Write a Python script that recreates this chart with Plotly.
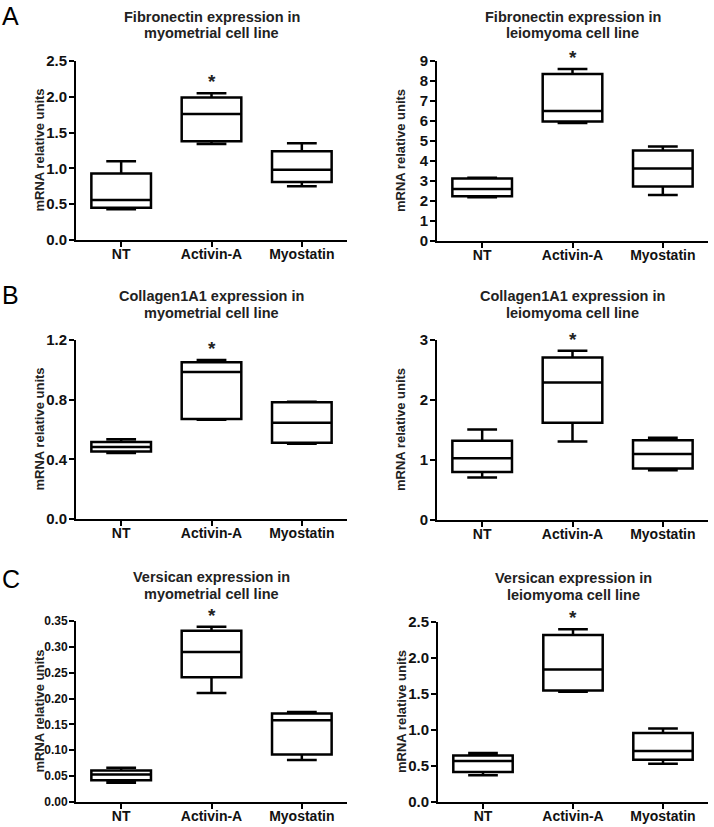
import plotly.graph_objects as go

categories = ["NT", "Activin-A", "Myostatin"]

# five-number summaries (min, q1, median, q3, max)
fn_myo_min = [0.43, 1.34, 0.75]
fn_myo_q1 = [0.45, 1.38, 0.81]
fn_myo_med = [0.56, 1.76, 0.98]
fn_myo_q3 = [0.93, 1.99, 1.24]
fn_myo_max = [1.10, 2.05, 1.35]

fn_leio_min = [2.19, 5.90, 2.30]
fn_leio_q1 = [2.24, 5.97, 2.72]
fn_leio_med = [2.60, 6.50, 3.62]
fn_leio_q3 = [3.12, 8.35, 4.52]
fn_leio_max = [3.16, 8.60, 4.72]

col_myo_min = [0.443, 0.665, 0.505]
col_myo_q1 = [0.452, 0.670, 0.512]
col_myo_med = [0.483, 0.985, 0.645]
col_myo_q3 = [0.516, 1.050, 0.782]
col_myo_max = [0.534, 1.066, 0.786]

col_leio_min = [0.71, 1.31, 0.83]
col_leio_q1 = [0.80, 1.62, 0.86]
col_leio_med = [1.03, 2.29, 1.10]
col_leio_q3 = [1.32, 2.71, 1.33]
col_leio_max = [1.51, 2.82, 1.37]

ver_myo_min = [0.037, 0.211, 0.081]
ver_myo_q1 = [0.042, 0.241, 0.092]
ver_myo_med = [0.053, 0.290, 0.158]
ver_myo_q3 = [0.061, 0.331, 0.171]
ver_myo_max = [0.066, 0.339, 0.174]

ver_leio_min = [0.37, 1.53, 0.53]
ver_leio_q1 = [0.415, 1.55, 0.586]
ver_leio_med = [0.57, 1.84, 0.71]
ver_leio_q3 = [0.646, 2.32, 0.96]
ver_leio_max = [0.68, 2.40, 1.02]

W, H = 714, 827
FONT = "Liberation Sans, Arial, sans-serif"

def px_x(x0, x1):
    return [x0 / W, x1 / W]

def px_y(top, bottom):
    return [1 - bottom / H, 1 - top / H]

# (title lines, stats, y max, dtick, tick format, y tick size, x pixels, y pixels)
panels = [
    (("Fibronectin expression in", "myometrial cell line"),
     (fn_myo_min, fn_myo_q1, fn_myo_med, fn_myo_q3, fn_myo_max), 2.5, 0.5, ".1f", 15, (76, 347), (61, 240)),
    (("Fibronectin expression in", "leiomyoma cell line"),
     (fn_leio_min, fn_leio_q1, fn_leio_med, fn_leio_q3, fn_leio_max), 9, 1, "d", 15, (437, 708), (61, 241)),
    (("Collagen1A1 expression in", "myometrial cell line"),
     (col_myo_min, col_myo_q1, col_myo_med, col_myo_q3, col_myo_max), 1.2, 0.4, ".1f", 15, (76, 347), (340, 519)),
    (("Collagen1A1 expression in", "leiomyoma cell line"),
     (col_leio_min, col_leio_q1, col_leio_med, col_leio_q3, col_leio_max), 3, 1, "d", 15, (437, 708), (340, 520)),
    (("Versican expression in", "myometrial cell line"),
     (ver_myo_min, ver_myo_q1, ver_myo_med, ver_myo_q3, ver_myo_max), 0.35, 0.05, ".2f", 12, (76, 347), (621, 802)),
    (("Versican expression in", "leiomyoma cell line"),
     (ver_leio_min, ver_leio_q1, ver_leio_med, ver_leio_q3, ver_leio_max), 2.5, 0.5, ".1f", 15, (438, 708), (622, 802)),
]

fig = go.Figure()
annotations = []

for i, (title, stats, ymax, dtick, fmt, ysize, xpx, ypx) in enumerate(panels):
    n = "" if i == 0 else str(i + 1)
    lo, q1, med, q3, hi = stats
    fig.add_trace(go.Box(
        x=categories, q1=q1, median=med, q3=q3,
        lowerfence=lo, upperfence=hi,
        xaxis="x" + n, yaxis="y" + n,
        width=0.66, whiskerwidth=0.5,
        line=dict(color="black", width=2.5),
        fillcolor="rgba(255,255,255,0)",
        boxpoints=False, showlegend=False, hoverinfo="skip",
    ))
    fig.update_layout({
        "xaxis" + n: dict(
            domain=px_x(*xpx), anchor="y" + n, type="category", automargin=False,
            range=[-0.5, 2.5], showline=True, linecolor="black", linewidth=2,
            ticks="outside", ticklen=5, tickwidth=2, tickcolor="black",
            ticklabelstandoff=-5,
            showgrid=False, zeroline=False,
            tickfont=dict(family=FONT, size=14, color="#111", weight="bold"),
        ),
        "yaxis" + n: dict(
            domain=px_y(*ypx), anchor="x" + n, automargin=False,
            range=[0, ymax], dtick=dtick, tick0=0, tickformat=fmt,
            showline=True, linecolor="black", linewidth=2,
            ticks="outside", ticklen=5, tickwidth=2, tickcolor="black",
            ticklabelstandoff=-1,
            showgrid=False, zeroline=False,
            tickfont=dict(family=FONT, size=ysize, color="#111", weight="bold"),
        ),
    })
    xc = (xpx[0] + xpx[1]) / 2 / W
    for line, off in zip(title, (44, 27.5)):
        annotations.append(dict(
            text=line, x=xc, y=1 - (ypx[0] - off) / H, xref="paper", yref="paper",
            xanchor="center", yanchor="middle", showarrow=False,
            font=dict(family=FONT, size=14.5, color="#222", weight="bold"),
        ))
    annotations.append(dict(
        text="mRNA relative units", textangle=-90,
        x=(xpx[0] - 37) / W, y=1 - (ypx[0] + ypx[1]) / 2 / H,
        xref="paper", yref="paper", xanchor="center", yanchor="middle",
        showarrow=False,
        font=dict(family=FONT, size=13, color="#222", weight="bold"),
    ))
    annotations.append(dict(
        text="*", x="Activin-A", y=hi[1], xref="x" + n, yref="y" + n,
        xanchor="center", yanchor="bottom", yshift=-1, showarrow=False,
        font=dict(family=FONT, size=19, color="#222", weight="bold"),
    ))

for letter, ytop in [("A", 0), ("B", 279), ("C", 563)]:
    annotations.append(dict(
        text=letter, x=0, y=1 - ytop / H, xref="paper", yref="paper",
        xanchor="left", yanchor="top", showarrow=False,
        font=dict(family=FONT, size=25, color="black"),
    ))

fig.update_layout(
    width=W, height=H,
    margin=dict(l=0, r=0, t=0, b=0, autoexpand=False),
    paper_bgcolor="white", plot_bgcolor="white",
    annotations=annotations,
)

fig.write_html("out.html", config={"displayModeBar": False},
               post_script="document.body.style.margin='0';")
